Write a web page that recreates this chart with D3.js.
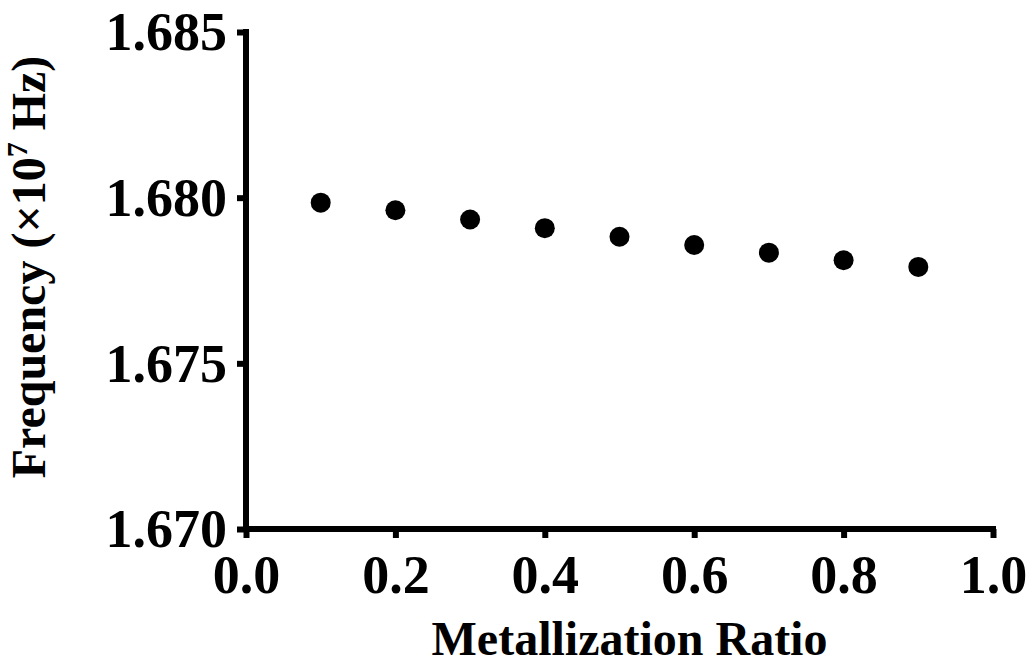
<!DOCTYPE html>
<html>
<head>
<meta charset="utf-8">
<script src="https://cdn.jsdelivr.net/npm/d3@7"></script>
<style>
  body { margin: 0; background: #fff; }
  svg { display: block; }
  text { font-family: "Liberation Serif", "Times New Roman", serif; font-weight: bold; }
</style>
</head>
<body>
<svg id="chart"></svg>
<script>
// data
const ratios = [0.1, 0.2, 0.3, 0.4, 0.5, 0.6, 0.7, 0.8, 0.9];
const freqs = [1.67985, 1.67962, 1.67934, 1.67908, 1.67882, 1.67857, 1.67834, 1.67811, 1.67791];
const xTicks = [0.0, 0.2, 0.4, 0.6, 0.8, 1.0];
const yTicks = [1.670, 1.675, 1.680, 1.685];

const width = 1032, height = 667;
const margin = {left: 246, right: 39, top: 32, bottom: 138};

const svg = d3.select("#chart").attr("width", width).attr("height", height);

const xScale = d3.scaleLinear().domain([0, 1]).range([margin.left, width - margin.right]);
const yScale = d3.scaleLinear().domain([1.670, 1.685]).range([height - margin.bottom, margin.top]);

//axes
const xAxis = svg.append("g")
    .attr("transform", `translate(0,${height - margin.bottom})`)
    .call(d3.axisBottom(xScale).tickValues(xTicks).tickFormat(d3.format(".1f")).tickSize(9).tickPadding(10));
const yAxis = svg.append("g")
    .attr("transform", `translate(${margin.left},0)`)
    .call(d3.axisLeft(yScale).tickValues(yTicks).tickFormat(d3.format(".3f")).tickSize(9).tickPadding(10));

for (let ax of [xAxis, yAxis]){
    ax.select(".domain").attr("stroke", "#000").attr("stroke-width", 6).attr("stroke-linecap", "square");
    ax.selectAll(".tick line").attr("stroke", "#000").attr("stroke-width", 6);
    ax.selectAll(".tick text").attr("fill", "#000").style("font-size", "54px");
}
// remove the outer ticks drawn by the domain path
xAxis.select(".domain").attr("d", `M${xScale(0)},0H${xScale(1)}`);
yAxis.select(".domain").attr("d", `M0,${yScale(1.685)}V${yScale(1.670)}`);
xAxis.selectAll(".tick text").attr("dy", null).attr("y", 64);
yAxis.selectAll(".tick text").attr("dy", "0.33em");

//points
svg.append("g").selectAll("circle").data(ratios).join("circle")
    .attr("cx", d => xScale(d))
    .attr("cy", (d, i) => yScale(freqs[i]))
    .attr("r", 10)
    .attr("fill", "#000");

//axis titles
svg.append("text")
    .attr("x", (xScale(0) + xScale(1)) / 2 + 10)
    .attr("y", 655)
    .attr("text-anchor", "middle")
    .style("font-size", "48px")
    .text("Metallization Ratio");

const yTitle = svg.append("text")
    .attr("transform", `translate(45,${267}) rotate(-90)`)
    .attr("text-anchor", "middle")
    .style("font-size", "48px");
yTitle.append("tspan").text("Frequency (\u00d710");
yTitle.append("tspan").attr("dy", -18).style("font-size", "30px").text("7");
yTitle.append("tspan").attr("dy", 18).text(" Hz)");
</script>
</body>
</html>
